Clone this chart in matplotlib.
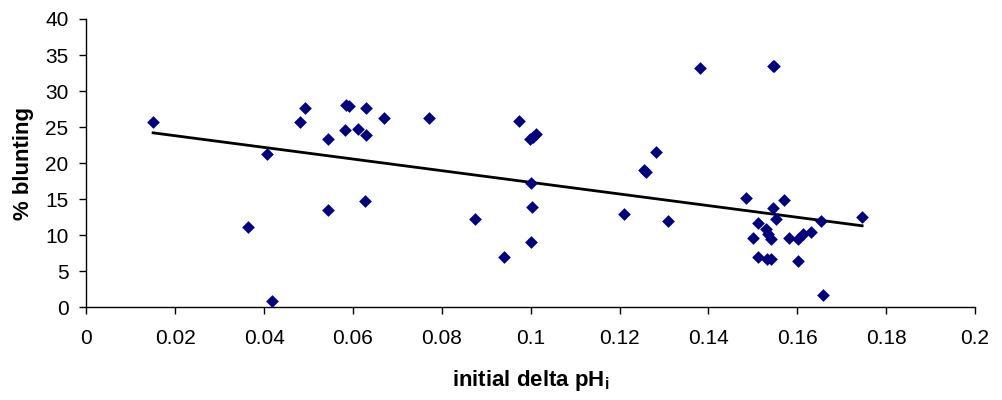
import matplotlib
matplotlib.use("Agg")
import matplotlib.pyplot as plt
import numpy as np

delta_phi = [0.0150, 0.0406, 0.0364, 0.0418, 0.0481, 0.0493, 0.0543, 0.0543,
             0.0585, 0.0590, 0.0582, 0.0612, 0.0629, 0.0629, 0.0626, 0.0669,
             0.0770, 0.0875, 0.0939, 0.0973, 0.0999, 0.1005, 0.1012, 0.1000,
             0.1003, 0.1000, 0.1209, 0.1255, 0.1260, 0.1282, 0.1308, 0.1380,
             0.1545, 0.1548, 0.1484, 0.1570, 0.1546, 0.1553, 0.1511, 0.1529,
             0.1500, 0.1541, 0.1535, 0.1582, 0.1601, 0.1614, 0.1630, 0.1654,
             0.1746, 0.1511, 0.1532, 0.1540, 0.1601, 0.1658]
blunting = [25.7, 21.2, 11.2, 0.8, 25.7, 27.6, 23.4, 13.5,
            28.1, 27.9, 24.6, 24.8, 27.6, 23.9, 14.8, 26.2,
            26.2, 12.3, 7.0, 25.9, 23.3, 23.6, 24.0, 17.3,
            13.9, 9.0, 13.0, 19.0, 18.7, 21.5, 12.0, 33.2,
            33.5, 33.5, 15.2, 14.9, 13.7, 12.3, 11.7, 10.8,
            9.6, 9.5, 10.2, 9.6, 9.5, 10.1, 10.5, 12.0,
            12.5, 6.9, 6.7, 6.7, 6.4, 1.7]

trend_x = [0.0150, 0.1746]
trend_y = [24.2, 11.3]

x_ticks = [0, 0.02, 0.04, 0.06, 0.08, 0.1, 0.12, 0.14, 0.16, 0.18, 0.2]
x_tick_labels = ["0", "0.02", "0.04", "0.06", "0.08", "0.1", "0.12", "0.14", "0.16", "0.18", "0.2"]
y_ticks = [0, 5, 10, 15, 20, 25, 30, 35, 40]

plt.rcParams['font.family'] = ['Liberation Sans', 'DejaVu Sans']

fig = plt.figure(figsize=(10.02, 4.0), dpi=100)
ax = fig.add_axes([0.0863, 0.232, 0.8867, 0.7205])

ax.scatter(delta_phi, blunting, marker='D', s=42, color='#000080', zorder=3, linewidths=0)
ax.plot(trend_x, trend_y, color='black', lw=2, zorder=2)

ax.set_xlim(0, 0.2)
ax.set_ylim(0, 40)
ax.set_xticks(x_ticks)
ax.set_xticklabels(x_tick_labels)
ax.set_yticks(y_ticks)
ax.spines['top'].set_visible(False)
ax.spines['right'].set_visible(False)
for s in ('left', 'bottom'):
    ax.spines[s].set_linewidth(1.0)
ax.tick_params(axis='both', direction='out', length=5, width=1, labelsize=15, colors='black')
ax.tick_params(axis='x', pad=11)
ax.tick_params(axis='y', pad=8)

ax.set_xlabel("initial delta pH$_\\mathregular{i}$", fontsize=16, fontweight='bold', labelpad=14)
ax.set_ylabel("% blunting", fontsize=16, fontweight='bold', labelpad=8)

fig.savefig("out.png", dpi=100)
